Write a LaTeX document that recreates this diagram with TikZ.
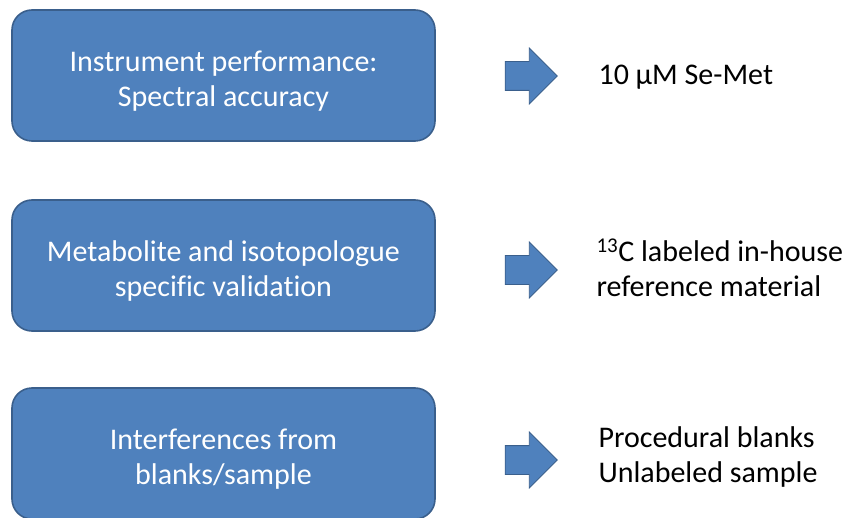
\documentclass[tikz,border=0pt]{standalone}
\usepackage{fontspec}
\setmainfont{Carlito}[Ligatures={NoCommon}]
\usetikzlibrary{shapes.arrows}
\definecolor{boxblue}{HTML}{4F81BD}
\definecolor{boxedge}{HTML}{3A5F8C}
\tikzset{
  stage/.style={draw=boxedge,line width=1.6pt,fill=boxblue,rounded corners=20pt,
    minimum width=423pt,minimum height=131pt},
  stagetext/.style={align=center,text=white,font=\fontsize{30}{35}\selectfont},
  pointer/.style={single arrow,draw=boxedge,line width=0.8pt,fill=boxblue,
    inner sep=14pt,minimum height=52pt,single arrow head extend=13.5pt,
    single arrow tip angle=90},
  material/.style={anchor=west,align=left,font=\fontsize{30}{35}\selectfont}
}
\begin{document}
\begin{tikzpicture}[x=1pt,y=-1pt]
\useasboundingbox (0,0) rectangle (858,518);
% left boxes
\node[stage] (perf) at (223.5,75.5) {};
\node[stage] (valid) at (223.5,265.5) {};
\node[stage] (interf) at (223.5,453.5) {};
\node[stagetext] (perfText) at ([yshift=-6pt]perf.center) {Instrument performance:\\Spectral accuracy};
\node[stagetext] (validText) at ([yshift=-6pt]valid.center) {Metabolite and isotopologue\\specific validation};
\node[stagetext] (interfText) at ([yshift=-6pt]interf.center) {Interferences from\\blanks/sample};
% block arrows
\node[pointer] (arrA) at (524,76) {};
\node[pointer] (arrB) at (524,270) {};
\node[pointer] (arrC) at (524,460) {};
% materials
\node[material] (semet) at (595,77) {10 μM Se-Met};
\node[material] (labeled) at (593,268) {\textsuperscript{13}C labeled in-house\\reference material};
\node[material] (blanks) at (595,457) {Procedural blanks\\Unlabeled sample};
\end{tikzpicture}
\end{document}
